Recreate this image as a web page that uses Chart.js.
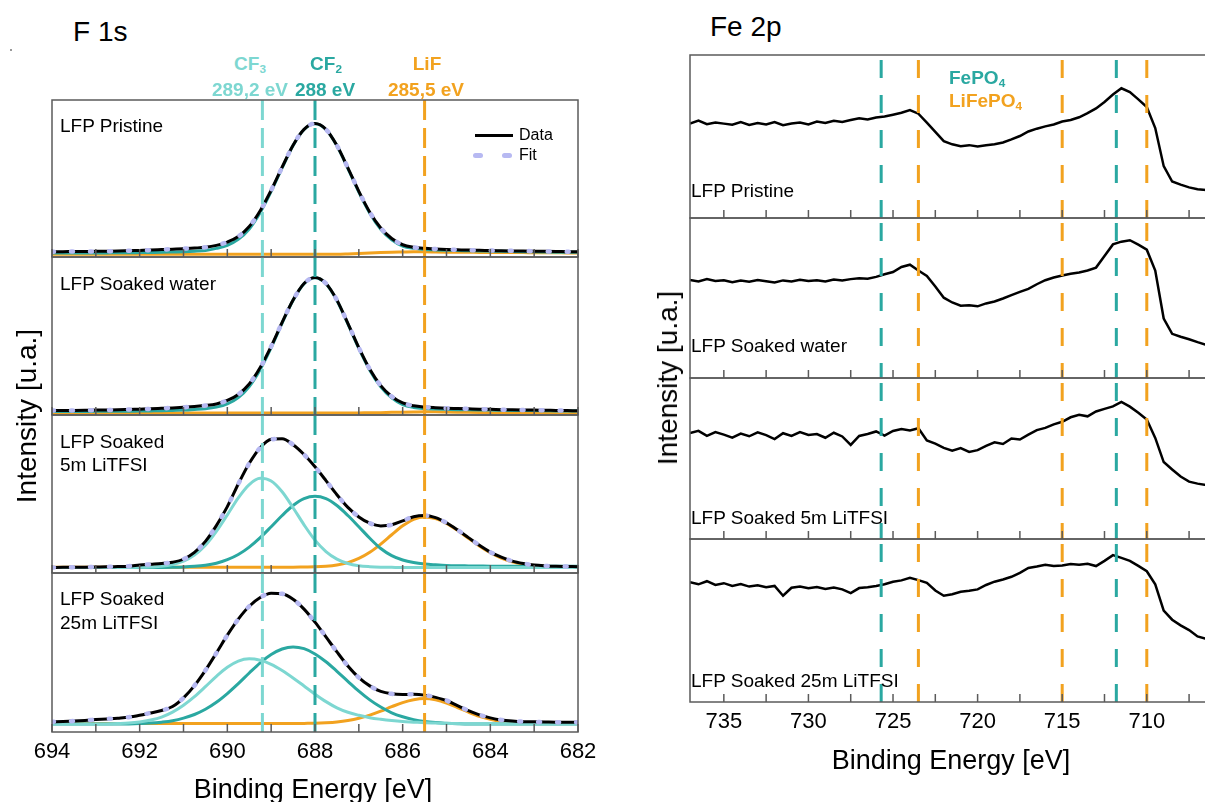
<!DOCTYPE html>
<html>
<head>
<meta charset="utf-8">
<script src="https://cdn.jsdelivr.net/npm/chart.js@4.4.1/dist/chart.umd.min.js"></script>
<style>
  body { margin: 0; width: 1205px; height: 802px; overflow: hidden; background: #fff; position: relative;
         font-family: "Liberation Sans", Arial, sans-serif; }
  canvas { position: absolute; }
  .t { position: absolute; white-space: nowrap; line-height: 1; color: #000; }
  sub { font-size: 0.62em; vertical-align: -0.3em; line-height: 0; }
</style>
</head>
<body>
<script>
// ---- F 1s data (binding energy in eV, intensity normalised per panel) ----
const f1sEnergy = [694, 693.75, 693.5, 693.25, 693, 692.75, 692.5, 692.25, 692, 691.75, 691.5, 691.25, 691,
  690.75, 690.5, 690.25, 690, 689.75, 689.5, 689.25, 689, 688.75, 688.5, 688.25, 688, 687.75, 687.5, 687.25, 687,
  686.75, 686.5, 686.25, 686, 685.75, 685.5, 685.25, 685, 684.75, 684.5, 684.25, 684, 683.75, 683.5, 683.25, 683,
  682.75, 682.5, 682.25, 682];

const pristineData = [0.034,0.034,0.035,0.035,0.036,0.037,0.038,0.040,0.042,0.044,0.047,0.050,0.053,0.057,0.062,
  0.074,0.095,0.130,0.194,0.295,0.425,0.572,0.712,0.813,0.850,0.813,0.710,0.568,0.418,0.285,0.185,0.118,0.078,0.062,
  0.055,0.051,0.048,0.046,0.044,0.043,0.041,0.040,0.039,0.038,0.037,0.036,0.035,0.034,0.033];
const pristineCF2 = [0.025,0.025,0.025,0.025,0.026,0.026,0.027,0.027,0.028,0.029,0.030,0.032,0.034,0.037,0.042,
  0.055,0.074,0.112,0.178,0.283,0.418,0.568,0.710,0.812,0.849,0.812,0.708,0.565,0.413,0.279,0.177,0.110,0.070,0.055,
  0.048,0.045,0.043,0.041,0.040,0.039,0.037,0.036,0.035,0.034,0.033,0.032,0.031,0.030,0.030];
const pristineLiF = [0.017,0.017,0.017,0.017,0.017,0.017,0.017,0.017,0.017,0.017,0.017,0.017,0.017,0.017,0.017,
  0.017,0.017,0.017,0.017,0.017,0.017,0.017,0.017,0.017,0.017,0.017,0.017,0.019,0.022,0.026,0.029,0.031,0.032,0.033,
  0.033,0.032,0.031,0.030,0.030,0.029,0.029,0.028,0.028,0.028,0.027,0.027,0.027,0.026,0.026];

const waterData = [0.028,0.028,0.029,0.030,0.031,0.032,0.033,0.035,0.037,0.039,0.042,0.045,0.049,0.054,0.060,
  0.070,0.092,0.130,0.196,0.300,0.434,0.586,0.728,0.832,0.870,0.832,0.727,0.580,0.426,0.289,0.186,0.117,0.076,0.058,
  0.050,0.046,0.043,0.041,0.039,0.037,0.036,0.034,0.033,0.032,0.031,0.030,0.029,0.028,0.027];
const waterCF2 = [0.022,0.022,0.022,0.022,0.023,0.023,0.023,0.024,0.025,0.026,0.027,0.029,0.031,0.035,0.040,
  0.050,0.070,0.110,0.180,0.288,0.427,0.582,0.726,0.831,0.869,0.831,0.725,0.577,0.421,0.283,0.178,0.108,0.066,0.048,
  0.041,0.038,0.036,0.034,0.033,0.032,0.031,0.030,0.029,0.028,0.028,0.027,0.026,0.026,0.025];
const waterLiF = [0.012,0.012,0.012,0.012,0.012,0.012,0.012,0.012,0.012,0.012,0.012,0.012,0.012,0.012,0.012,
  0.012,0.012,0.012,0.012,0.012,0.012,0.012,0.012,0.012,0.012,0.012,0.012,0.012,0.013,0.014,0.015,0.017,0.018,0.019,
  0.020,0.020,0.019,0.018,0.017,0.016,0.015,0.015,0.014,0.014,0.013,0.013,0.013,0.013,0.013];

const li5Data = [0.035,0.036,0.036,0.037,0.038,0.039,0.041,0.043,0.050,0.055,0.060,0.068,0.087,0.130,0.200,
  0.300,0.420,0.563,0.694,0.793,0.846,0.849,0.812,0.750,0.672,0.585,0.495,0.415,0.355,0.315,0.298,0.305,0.330,0.356,
  0.364,0.350,0.317,0.273,0.224,0.175,0.132,0.100,0.075,0.060,0.050,0.045,0.042,0.041,0.040];
const li5CF3 = [0.035,0.035,0.035,0.035,0.035,0.035,0.035,0.035,0.036,0.038,0.042,0.053,0.075,0.114,0.176,
  0.264,0.368,0.476,0.560,0.599,0.582,0.514,0.413,0.305,0.208,0.136,0.088,0.060,0.046,0.040,0.037,0.036,0.035,0.035,
  0.035,0.035,0.035,0.035,0.035,0.035,0.035,0.035,0.035,0.035,0.035,0.035,0.035,0.035,0.035];
const li5CF2 = [0.035,0.035,0.035,0.035,0.035,0.035,0.035,0.035,0.035,0.035,0.035,0.036,0.038,0.042,0.049,
  0.062,0.084,0.117,0.164,0.224,0.293,0.364,0.427,0.470,0.485,0.470,0.427,0.364,0.293,0.220,0.155,0.110,0.082,0.066,
  0.057,0.052,0.048,0.046,0.045,0.044,0.043,0.043,0.043,0.043,0.043,0.043,0.043,0.043,0.043];
const li5LiF = [0.037,0.037,0.037,0.037,0.037,0.037,0.037,0.037,0.037,0.037,0.037,0.037,0.037,0.037,0.037,
  0.037,0.037,0.037,0.037,0.037,0.037,0.037,0.037,0.038,0.039,0.043,0.051,0.066,0.092,0.131,0.183,0.242,0.299,0.340,
  0.355,0.344,0.314,0.270,0.220,0.171,0.128,0.095,0.071,0.056,0.047,0.042,0.039,0.038,0.038];

const li25Data = [0.064,0.066,0.069,0.073,0.078,0.082,0.087,0.093,0.105,0.120,0.135,0.160,0.215,0.292,0.388,
  0.497,0.609,0.710,0.791,0.846,0.873,0.869,0.835,0.773,0.691,0.598,0.504,0.415,0.342,0.290,0.255,0.240,0.236,0.237,
  0.232,0.218,0.198,0.166,0.134,0.108,0.089,0.076,0.069,0.065,0.064,0.063,0.062,0.062,0.061];
const li25CF3 = [0.050,0.050,0.050,0.050,0.050,0.051,0.053,0.056,0.063,0.075,0.094,0.125,0.168,0.222,0.285,
  0.350,0.407,0.446,0.460,0.451,0.426,0.387,0.340,0.289,0.238,0.191,0.152,0.124,0.105,0.090,0.080,0.072,0.066,0.062,
  0.058,0.056,0.054,0.053,0.052,0.052,0.052,0.052,0.052,0.052,0.052,0.052,0.052,0.052,0.052];
const li25CF2 = [0.050,0.050,0.050,0.050,0.050,0.050,0.050,0.051,0.053,0.056,0.062,0.071,0.087,0.110,0.143,
  0.187,0.242,0.304,0.371,0.435,0.487,0.522,0.535,0.524,0.491,0.442,0.382,0.319,0.257,0.202,0.157,0.121,0.096,0.078,
  0.066,0.059,0.055,0.052,0.050,0.050,0.050,0.050,0.050,0.050,0.050,0.050,0.050,0.050,0.050];
const li25LiF = [0.053,0.053,0.053,0.053,0.053,0.053,0.053,0.053,0.053,0.053,0.053,0.053,0.053,0.053,0.053,
  0.053,0.053,0.053,0.053,0.053,0.053,0.053,0.053,0.054,0.055,0.058,0.063,0.072,0.086,0.106,0.131,0.159,0.185,0.203,
  0.210,0.202,0.182,0.154,0.125,0.099,0.080,0.067,0.060,0.056,0.054,0.053,0.053,0.053,0.053];

const f1sTicks = [694, 693, 692, 691, 690, 689, 688, 687, 686, 685, 684, 683, 682];
const f1sLabels = ['694', '', '692', '', '690', '', '688', '', '686', '', '684', '', '682'];
// marker positions on the energy axis
const f1sCF3 = 689.2, f1sCF2 = 688, f1sLiF = 685.5;

// ---- Fe 2p data ----
const feEnergy = [737, 736.5, 736, 735.5, 735, 734.5, 734, 733.5, 733, 732.5, 732, 731.5, 731, 730.5, 730,
  729.5, 729, 728.5, 728, 727.5, 727, 726.5, 726, 725.5, 725, 724.5, 724, 723.5, 723, 722.5, 722, 721.5, 721,
  720.5, 720, 719.5, 719, 718.5, 718, 717.5, 717, 716.5, 716, 715.5, 715, 714.5, 714, 713.5, 713, 712.5, 712,
  711.5, 711, 710.5, 710, 709.5, 709, 708.5, 708, 707.5, 707, 706.5];
const fePristine = [0.580,0.598,0.576,0.586,0.579,0.572,0.588,0.571,0.582,0.574,
  0.589,0.569,0.580,0.586,0.574,0.592,0.583,0.597,0.589,0.601,
  0.612,0.604,0.617,0.623,0.634,0.646,0.662,0.640,0.585,0.528,
  0.472,0.452,0.441,0.447,0.438,0.446,0.452,0.463,0.482,0.503,
  0.531,0.548,0.562,0.574,0.592,0.601,0.618,0.643,0.672,0.712,
  0.758,0.796,0.772,0.728,0.681,0.552,0.318,0.224,0.205,0.188,
  0.176,0.172];
const feWater = [0.612,0.603,0.618,0.606,0.611,0.598,0.609,0.601,0.612,0.604,
  0.597,0.610,0.603,0.614,0.606,0.611,0.603,0.615,0.609,0.618,
  0.624,0.621,0.632,0.648,0.662,0.694,0.708,0.672,0.638,0.572,
  0.502,0.472,0.452,0.455,0.448,0.466,0.478,0.497,0.518,0.538,
  0.557,0.586,0.611,0.628,0.641,0.652,0.660,0.672,0.690,0.762,
  0.835,0.852,0.861,0.834,0.802,0.672,0.372,0.276,0.258,0.242,
  0.224,0.208];
const fe5m = [0.658,0.672,0.641,0.664,0.648,0.630,0.655,0.638,0.662,0.645,
  0.621,0.657,0.640,0.664,0.646,0.652,0.629,0.660,0.637,0.584,
  0.640,0.652,0.668,0.642,0.671,0.683,0.674,0.688,0.612,0.592,
  0.566,0.548,0.565,0.541,0.552,0.578,0.601,0.590,0.624,0.618,
  0.648,0.676,0.690,0.712,0.728,0.756,0.771,0.762,0.792,0.808,
  0.824,0.852,0.822,0.784,0.742,0.628,0.478,0.432,0.388,0.356,
  0.344,0.336];
const fe25m = [0.735,0.722,0.741,0.718,0.729,0.712,0.723,0.708,0.716,0.704,
  0.712,0.652,0.701,0.709,0.698,0.706,0.694,0.702,0.691,0.668,
  0.699,0.704,0.712,0.722,0.738,0.746,0.762,0.748,0.731,0.684,
  0.652,0.661,0.676,0.682,0.691,0.718,0.738,0.752,0.768,0.792,
  0.822,0.831,0.842,0.834,0.838,0.846,0.842,0.848,0.834,0.866,
  0.901,0.884,0.866,0.835,0.802,0.722,0.561,0.505,0.470,0.441,
  0.402,0.388];

const feTicks = [735, 732.5, 730, 727.5, 725, 722.5, 720, 717.5, 715, 712.5, 710, 707.5];
const feLabels = ['735', '', '730', '', '725', '', '720', '', '715', '', '710', ''];
const feFePO4 = [725.7, 711.8];
const feLiFePO4 = [723.5, 715, 710];

// ---- colours ----
const LIGHT = '#7dd7d1', TEAL = '#2aa8a1', ORANGE = '#f2a21f', LAV = '#b7b9f2', FRAME = '#5b5b5b';

Chart.defaults.font.family = "'Liberation Sans', Arial, sans-serif";

// draws the panel frame and the inward tick marks
const framePlugin = {
  id: 'frame',
  afterDatasetsDraw(chart, args, o) {
    const { ctx, chartArea: a } = chart;
    const x = chart.scales.x;
    ctx.save();
    ctx.strokeStyle = FRAME;
    ctx.lineWidth = 1.5;
    ctx.beginPath();
    o.ticks.forEach(v => {
      const px = x.getPixelForValue(v);
      ctx.moveTo(px, a.bottom);
      ctx.lineTo(px, a.bottom - 8);
    });
    ctx.stroke();
    ctx.strokeRect(a.left, a.top, a.right - a.left, a.bottom - a.top);
    ctx.restore();
  }
};

function curve(xs, ys, color, width, extra) {
  return Object.assign({
    data: xs.map((x, i) => ({ x: x, y: ys[i] })),
    borderColor: color, borderWidth: width, pointRadius: 0, fill: false
  }, extra || {});
}

function vline(x, color, dash, offset) {
  return { data: [{ x: x, y: 1 }, { x: x, y: 0 }], borderColor: color, borderWidth: 3,
           borderDash: dash, borderDashOffset: offset, pointRadius: 0, fill: false };
}

// frame box: left, top, width, height in page pixels; axis = height kept for tick labels
function addChart(box, datasets, xr, ticks, labels, axis) {
  const pad = 30, vpad = 2;
  const c = document.createElement('canvas');
  c.width = box.w + 2 * pad;
  c.height = box.h + 2 * vpad + axis;
  c.style.left = (box.x - pad) + 'px';
  c.style.top = (box.y - vpad) + 'px';
  c.style.width = c.width + 'px';
  c.style.height = c.height + 'px';
  document.body.appendChild(c);
  // first dataset in the list is drawn at the bottom
  datasets.forEach((d, i) => { d.order = datasets.length - i; });
  new Chart(c, {
    type: 'line',
    data: { datasets: datasets },
    plugins: [framePlugin],
    options: {
      responsive: false, animation: false, devicePixelRatio: 1, events: [],
      layout: { padding: { left: pad, right: pad, top: vpad, bottom: vpad } },
      plugins: { legend: { display: false }, tooltip: { enabled: false }, frame: { ticks: ticks } },
      scales: {
        x: {
          type: 'linear', min: xr[0], max: xr[1], reverse: true, display: axis > 0,
          grid: { display: false, drawTicks: false }, border: { display: false },
          afterBuildTicks: s => { s.ticks = ticks.map(v => ({ value: v })); },
          afterFit: s => { s.height = axis; },
          ticks: { autoSkip: false, maxRotation: 0, padding: 7, color: '#000', font: { size: 22 },
                   callback: (v, i) => labels[i] }
        },
        y: { type: 'linear', min: 0, max: 1, display: false }
      }
    }
  });
}

// ---- left panel: F 1s ----
const f1sRows = [
  { data: pristineData, cf3: null, cf2: pristineCF2, lif: pristineLiF },
  { data: waterData, cf3: null, cf2: waterCF2, lif: waterLiF },
  { data: li5Data, cf3: li5CF3, cf2: li5CF2, lif: li5LiF },
  { data: li25Data, cf3: li25CF3, cf2: li25CF2, lif: li25LiF }
];
const leftY = [100, 257, 415, 573, 732];
f1sRows.forEach((r, k) => {
  const ds = [];
  ds.push(curve(f1sEnergy, r.lif, ORANGE, 3, { cubicInterpolationMode: 'monotone' }));
  ds.push(curve(f1sEnergy, r.cf2, TEAL, 3, { cubicInterpolationMode: 'monotone' }));
  if (r.cf3) ds.push(curve(f1sEnergy, r.cf3, LIGHT, 3, { cubicInterpolationMode: 'monotone' }));
  ds.push(curve(f1sEnergy, r.data, '#000', 3, { cubicInterpolationMode: 'monotone' }));
  ds.push(curve(f1sEnergy, r.data, LAV, 4.5, { cubicInterpolationMode: 'monotone', borderDash: [2, 17], borderCapStyle: 'round' }));
  ds.push(vline(f1sCF3, LIGHT, [20, 8], 0));
  ds.push(vline(f1sCF2, TEAL, [20, 8], 0));
  ds.push(vline(f1sLiF, ORANGE, [20, 8], 0));
  addChart({ x: 52, y: leftY[k], w: 526, h: leftY[k + 1] - leftY[k] }, ds, [682, 694],
           f1sTicks, f1sLabels, k === 3 ? 40 : 0);
});

// ---- right panel: Fe 2p ----
const feRows = [fePristine, feWater, fe5m, fe25m];
const rightY = [55, 218, 378, 539, 702];
feRows.forEach((r, k) => {
  const ds = [curve(feEnergy, r, '#000', 2.5, { tension: 0 })];
  feFePO4.forEach(e => ds.push(vline(e, TEAL, [18, 17], 30)));
  feLiFePO4.forEach(e => ds.push(vline(e, ORANGE, [18, 17], 30)));
  addChart({ x: 690, y: rightY[k], w: 516, h: rightY[k + 1] - rightY[k] }, ds, [706.5, 737],
           feTicks, feLabels, k === 3 ? 40 : 0);
});

// ---- text ----
function addText(html, x, y, size, o) {
  o = o || {};
  const d = document.createElement('div');
  d.className = 't';
  d.innerHTML = html;
  d.style.left = x + 'px';
  d.style.top = y + 'px';
  d.style.fontSize = size + 'px';
  if (o.bold) d.style.fontWeight = 'bold';
  if (o.color) d.style.color = o.color;
  let tf = o.center ? 'translate(-50%,-50%)' : 'translate(0,-50%)';
  if (o.rotate) tf += ' rotate(-90deg)';
  d.style.transform = tf;
  document.body.appendChild(d);
}

addText('F 1s', 73, 32, 28);
addText('CF<sub>3</sub>', 250, 63, 19, { bold: true, color: LIGHT, center: true });
addText('289,2 eV', 250, 89, 19, { bold: true, color: LIGHT, center: true });
addText('CF<sub>2</sub>', 326, 63, 19, { bold: true, color: TEAL, center: true });
addText('288 eV', 325, 89, 19, { bold: true, color: TEAL, center: true });
addText('LiF', 427, 63, 19, { bold: true, color: ORANGE, center: true });
addText('285,5 eV', 426, 89, 19, { bold: true, color: ORANGE, center: true });
addText('Data', 519, 135, 16);
addText('Fit', 519, 155, 16);
addText('LFP Pristine', 60, 125, 19);
addText('LFP Soaked water', 60, 283, 19);
addText('LFP Soaked', 60, 441, 19);
addText('5m LiTFSI', 60, 464, 19);
addText('LFP Soaked', 60, 598, 19);
addText('25m LiTFSI', 60, 622, 19);
addText('Intensity [u.a.]', 27, 416, 28, { center: true, rotate: true });
addText('Binding Energy [eV]', 313, 789, 27, { center: true });

addText('Fe 2p', 710, 27, 28);
addText('FePO<sub>4</sub>', 949, 77, 19, { bold: true, color: TEAL });
addText('LiFePO<sub>4</sub>', 949, 100, 19, { bold: true, color: ORANGE });
addText('LFP Pristine', 691, 190, 19);
addText('LFP Soaked water', 691, 345, 19);
addText('LFP Soaked 5m LiTFSI', 691, 517, 19);
addText('LFP Soaked 25m LiTFSI', 691, 680, 19);
addText('Intensity [u.a.]', 668, 378, 28, { center: true, rotate: true });
addText('Binding Energy [eV]', 951, 760, 27, { center: true });

// legend samples
function addBox(x, y, w, h, color, radius) {
  const d = document.createElement('div');
  d.style.cssText = 'position:absolute;left:' + x + 'px;top:' + y + 'px;width:' + w + 'px;height:' + h +
    'px;background:' + color + ';border-radius:' + radius + 'px;';
  document.body.appendChild(d);
}
addBox(475, 133.5, 38, 3, '#000', 0);
addBox(473, 153, 10, 5, LAV, 3);
addBox(502, 153, 10, 5, LAV, 3);
addBox(10, 49, 2, 2, '#999', 0);
</script>
</body>
</html>
